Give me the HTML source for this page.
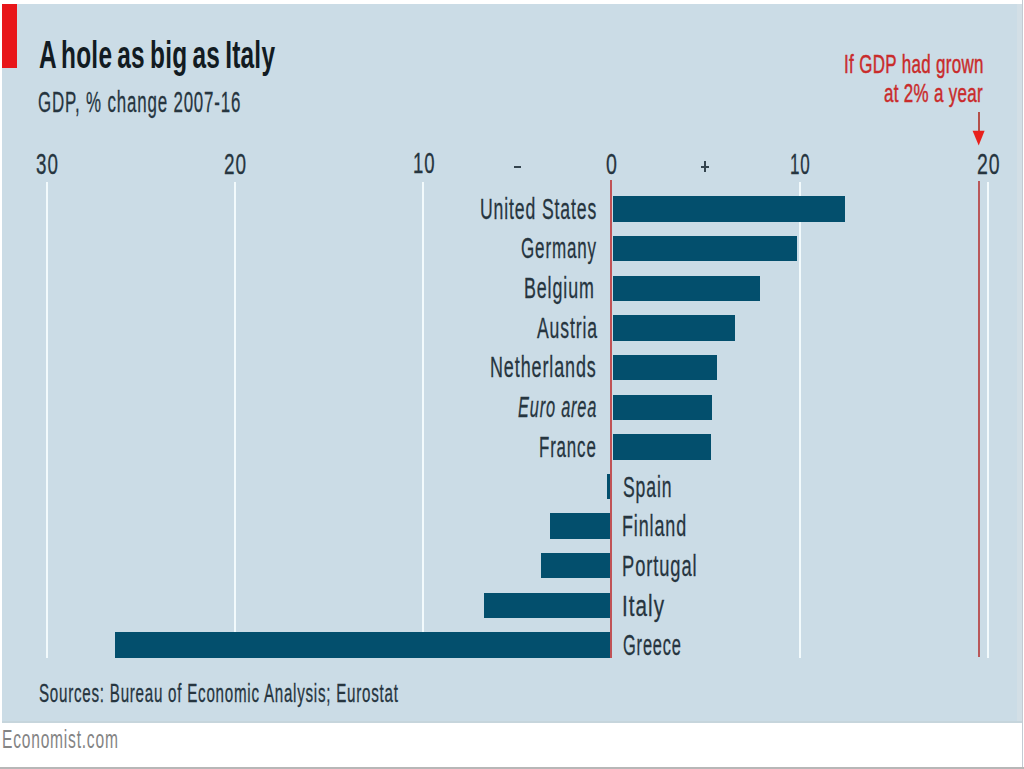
<!DOCTYPE html>
<html><head><meta charset="utf-8"><style>
html,body{margin:0;padding:0;background:#fff;width:1024px;height:769px;overflow:hidden;position:relative}
.r{position:absolute}
.t{position:absolute;white-space:nowrap;font-family:"Liberation Sans",sans-serif;transform-origin:0 0}
</style></head><body>
<div class="r" style="left:2px;top:4px;width:1016px;height:717px;background:#cbdce6"></div>
<div class="r" style="left:1017px;top:4px;width:5px;height:717px;background:#d3dfe6"></div>
<div class="r" style="left:2px;top:721px;width:1020px;height:2px;background:#c6d5dc"></div>
<div class="r" style="left:1022px;top:0;width:1px;height:769px;background:#c3cad2"></div>
<div class="r" style="left:0;top:767px;width:1024px;height:2px;background:#b7b7b7"></div>
<div class="r" style="left:2px;top:4px;width:15px;height:64px;background:#e8161a"></div>
<div class="r" style="left:45.60px;top:181.5px;width:2px;height:476.5px;background:#f2fafc"></div><div class="r" style="left:233.90px;top:181.5px;width:2px;height:476.5px;background:#f2fafc"></div><div class="r" style="left:422.20px;top:181.5px;width:2px;height:476.5px;background:#f2fafc"></div><div class="r" style="left:798.70px;top:181.5px;width:2px;height:476.5px;background:#f2fafc"></div><div class="r" style="left:986.90px;top:181.5px;width:2px;height:476.5px;background:#f2fafc"></div>
<div class="r" style="left:612.50px;top:196.30px;width:232.00px;height:25.4px;background:#034f6d"></div><div class="r" style="left:612.50px;top:235.94px;width:184.70px;height:25.4px;background:#034f6d"></div><div class="r" style="left:612.50px;top:275.58px;width:147.50px;height:25.4px;background:#034f6d"></div><div class="r" style="left:612.50px;top:315.22px;width:122.50px;height:25.4px;background:#034f6d"></div><div class="r" style="left:612.50px;top:354.86px;width:104.80px;height:25.4px;background:#034f6d"></div><div class="r" style="left:612.50px;top:394.50px;width:99.10px;height:25.4px;background:#034f6d"></div><div class="r" style="left:612.50px;top:434.14px;width:98.60px;height:25.4px;background:#034f6d"></div><div class="r" style="left:606.80px;top:473.78px;width:4.70px;height:25.4px;background:#034f6d"></div><div class="r" style="left:549.50px;top:513.42px;width:62.00px;height:25.4px;background:#034f6d"></div><div class="r" style="left:541.20px;top:553.06px;width:70.30px;height:25.4px;background:#034f6d"></div><div class="r" style="left:484.10px;top:592.70px;width:127.40px;height:25.4px;background:#034f6d"></div><div class="r" style="left:115.00px;top:632.34px;width:496.50px;height:25.4px;background:#034f6d"></div>
<div class="r" style="left:610.1px;top:180px;width:1.9px;height:477.5px;background:#c05256"></div>
<div class="r" style="left:977.8px;top:181.4px;width:2.1px;height:475.6px;background:#b9585a"></div>
<div class="r" style="left:977.7px;top:112px;width:2.2px;height:20px;background:#b4504a"></div>
<svg class="r" style="left:0;top:0" width="1024" height="769"><polygon points="972.6,130.7 984.6,130.7 978.7,145.6" fill="#e8201c"/></svg>
<div class="r" style="left:513.5px;top:165.5px;width:7.8px;height:2.2px;background:#34444e"></div>
<div class="r" style="left:701.3px;top:165.8px;width:8.2px;height:2.1px;background:#34444e"></div>
<div class="r" style="left:704.4px;top:160.6px;width:2.1px;height:11.4px;background:#34444e"></div>
<div class="t" style="left:39.17px;top:35.56px;font-size:38.97px;line-height:38.97px;transform:scaleX(0.6265);color:#121b22;font-weight:bold;font-style:normal;letter-spacing:0.01em;word-spacing:-0.08em">A hole as big as Italy</div><div class="t" style="left:37.76px;top:86.92px;font-size:29.28px;line-height:29.28px;transform:scaleX(0.5769);color:#26353f;font-weight:normal;font-style:normal;letter-spacing:0.05em;word-spacing:0em;-webkit-text-stroke:0.30px #26353f">GDP, % change 2007-16</div><div class="t" style="left:36.25px;top:148.71px;font-size:29.30px;line-height:29.30px;transform:scaleX(0.6416);color:#26353f;font-weight:normal;font-style:normal;letter-spacing:0.05em;word-spacing:0em;-webkit-text-stroke:0.30px #26353f">30</div><div class="t" style="left:224.25px;top:148.56px;font-size:29.30px;line-height:29.30px;transform:scaleX(0.6476);color:#26353f;font-weight:normal;font-style:normal;letter-spacing:0.05em;word-spacing:0em;-webkit-text-stroke:0.30px #26353f">20</div><div class="t" style="left:412.62px;top:148.41px;font-size:29.30px;line-height:29.30px;transform:scaleX(0.6335);color:#26353f;font-weight:normal;font-style:normal;letter-spacing:0.05em;word-spacing:0em;-webkit-text-stroke:0.30px #26353f">10</div><div class="t" style="left:605.92px;top:148.86px;font-size:29.30px;line-height:29.30px;transform:scaleX(0.6685);color:#26353f;font-weight:normal;font-style:normal;letter-spacing:0.05em;word-spacing:0em;-webkit-text-stroke:0.30px #26353f">0</div><div class="t" style="left:790.34px;top:148.81px;font-size:29.30px;line-height:29.30px;transform:scaleX(0.5809);color:#26353f;font-weight:normal;font-style:normal;letter-spacing:0.05em;word-spacing:0em;-webkit-text-stroke:0.30px #26353f">10</div><div class="t" style="left:977.23px;top:148.71px;font-size:29.30px;line-height:29.30px;transform:scaleX(0.6636);color:#26353f;font-weight:normal;font-style:normal;letter-spacing:0.05em;word-spacing:0em;-webkit-text-stroke:0.30px #26353f">20</div><div class="t" style="left:844.37px;top:50.64px;font-size:26.26px;line-height:26.26px;transform:scaleX(0.6457);color:#c92b2b;font-weight:normal;font-style:normal;letter-spacing:0.02em;word-spacing:0em;-webkit-text-stroke:0.50px #c92b2b">If GDP had grown</div><div class="t" style="left:884.42px;top:79.52px;font-size:26.26px;line-height:26.26px;transform:scaleX(0.6443);color:#c92b2b;font-weight:normal;font-style:normal;letter-spacing:0.02em;word-spacing:0em;-webkit-text-stroke:0.50px #c92b2b">at 2% a year</div><div class="t" style="left:479.59px;top:195.22px;font-size:29.08px;line-height:29.08px;transform:scaleX(0.6052);color:#26353f;font-weight:normal;font-style:normal;letter-spacing:0.05em;word-spacing:0em;-webkit-text-stroke:0.30px #26353f">United States</div><div class="t" style="left:521.15px;top:234.17px;font-size:29.08px;line-height:29.08px;transform:scaleX(0.5853);color:#26353f;font-weight:normal;font-style:normal;letter-spacing:0.05em;word-spacing:0em;-webkit-text-stroke:0.30px #26353f">Germany</div><div class="t" style="left:524.27px;top:273.77px;font-size:29.08px;line-height:29.08px;transform:scaleX(0.6140);color:#26353f;font-weight:normal;font-style:normal;letter-spacing:0.05em;word-spacing:0em;-webkit-text-stroke:0.30px #26353f">Belgium</div><div class="t" style="left:536.50px;top:313.77px;font-size:29.08px;line-height:29.08px;transform:scaleX(0.6052);color:#26353f;font-weight:normal;font-style:normal;letter-spacing:0.05em;word-spacing:0em;-webkit-text-stroke:0.30px #26353f">Austria</div><div class="t" style="left:490.26px;top:353.47px;font-size:29.08px;line-height:29.08px;transform:scaleX(0.6176);color:#26353f;font-weight:normal;font-style:normal;letter-spacing:0.05em;word-spacing:0em;-webkit-text-stroke:0.30px #26353f">Netherlands</div><div class="t" style="left:517.71px;top:392.87px;font-size:29.08px;line-height:29.08px;transform:scaleX(0.5621);color:#26353f;font-weight:normal;font-style:italic;letter-spacing:0.05em;word-spacing:0em;-webkit-text-stroke:0.30px #26353f">Euro area</div><div class="t" style="left:538.65px;top:433.07px;font-size:29.08px;line-height:29.08px;transform:scaleX(0.5806);color:#26353f;font-weight:normal;font-style:normal;letter-spacing:0.05em;word-spacing:0em;-webkit-text-stroke:0.30px #26353f">France</div><div class="t" style="left:623.32px;top:472.67px;font-size:29.08px;line-height:29.08px;transform:scaleX(0.6045);color:#26353f;font-weight:normal;font-style:normal;letter-spacing:0.05em;word-spacing:0em;-webkit-text-stroke:0.30px #26353f">Spain</div><div class="t" style="left:621.77px;top:511.77px;font-size:29.08px;line-height:29.08px;transform:scaleX(0.6167);color:#26353f;font-weight:normal;font-style:normal;letter-spacing:0.05em;word-spacing:0em;-webkit-text-stroke:0.30px #26353f">Finland</div><div class="t" style="left:621.73px;top:551.87px;font-size:29.08px;line-height:29.08px;transform:scaleX(0.6301);color:#26353f;font-weight:normal;font-style:normal;letter-spacing:0.05em;word-spacing:0em;-webkit-text-stroke:0.30px #26353f">Portugal</div><div class="t" style="left:622.44px;top:591.57px;font-size:29.08px;line-height:29.08px;transform:scaleX(0.7109);color:#26353f;font-weight:normal;font-style:normal;letter-spacing:0.05em;word-spacing:0em;-webkit-text-stroke:0.30px #26353f">Italy</div><div class="t" style="left:623.48px;top:631.07px;font-size:29.08px;line-height:29.08px;transform:scaleX(0.5645);color:#26353f;font-weight:normal;font-style:normal;letter-spacing:0.05em;word-spacing:0em;-webkit-text-stroke:0.30px #26353f">Greece</div><div class="t" style="left:38.54px;top:679.53px;font-size:26.09px;line-height:26.09px;transform:scaleX(0.5806);color:#26353f;font-weight:normal;font-style:normal;letter-spacing:0.05em;word-spacing:0em;-webkit-text-stroke:0.30px #26353f">Sources: Bureau of Economic Analysis; Eurostat</div><div class="t" style="left:1.95px;top:726.77px;font-size:25.22px;line-height:25.22px;transform:scaleX(0.6179);color:#848484;font-weight:normal;font-style:normal;letter-spacing:0.05em;word-spacing:0em">Economist.com</div>
</body></html>
